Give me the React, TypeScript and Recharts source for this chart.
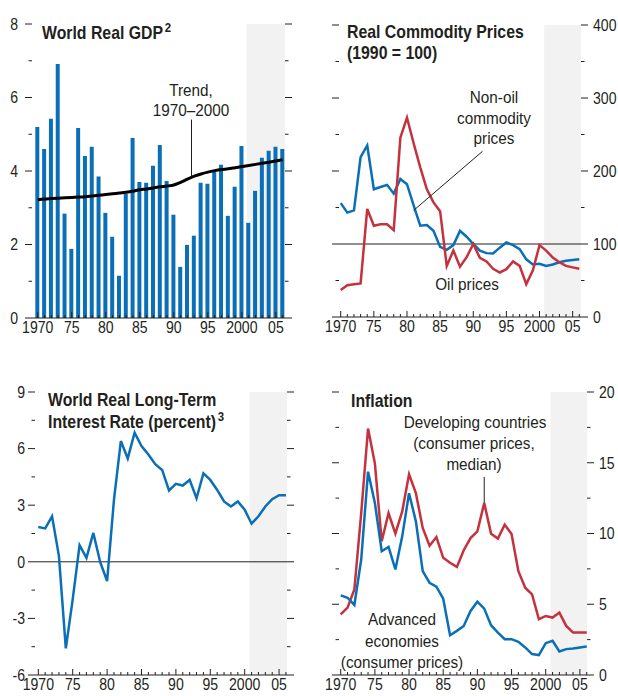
import React from 'react'
import {
  ComposedChart, Bar, Line, XAxis, YAxis,
  ReferenceArea, ReferenceLine,
} from 'recharts'

const BLUE = '#0a6fb7'
const RED = '#c3323d'
const INK = '#231f20'
const SHADE = '#f2f2f2'
const FONT = "'Liberation Sans', Arial, sans-serif"

const YEARS = [
  1970, 1971, 1972, 1973, 1974, 1975, 1976, 1977, 1978, 1979,
  1980, 1981, 1982, 1983, 1984, 1985, 1986, 1987, 1988, 1989,
  1990, 1991, 1992, 1993, 1994, 1995, 1996, 1997, 1998, 1999,
  2000, 2001, 2002, 2003, 2004, 2005, 2006,
]
const X_LABEL_YEARS = [1970, 1975, 1980, 1985, 1990, 1995, 2000, 2005]
const X_LABEL_TEXT = ['1970', '75', '80', '85', '90', '95', '2000', '05']

// world real GDP growth (bars) and its 1970-2000 trend
const GDP = [
  5.2, 4.6, 5.42, 6.91, 2.84, 1.88, 5.17, 4.41, 4.66, 3.85,
  2.86, 2.21, 1.15, 3.38, 4.9, 3.7, 3.68, 4.14, 4.71, 3.73,
  2.81, 1.39, 1.99, 2.24, 3.68, 3.65, 3.98, 4.17, 2.78, 3.57,
  4.68, 2.59, 3.46, 4.36, 4.55, 4.66, 4.6,
]
const GDP_TREND = [
  3.22, 3.24, 3.25, 3.26, 3.27, 3.28, 3.29, 3.3, 3.32, 3.34,
  3.36, 3.38, 3.4, 3.42, 3.45, 3.49, 3.51, 3.54, 3.57, 3.59,
  3.62, 3.69, 3.78, 3.86, 3.92, 3.97, 4.01, 4.04, 4.06, 4.09,
  4.12, 4.15, 4.18, 4.21, 4.24, 4.27, 4.31,
]

// real commodity prices, 1990 = 100
const NON_OIL = [
  156, 143, 146, 219, 235, 175, 178, 181, 169, 189,
  182, 153, 125, 126, 118, 96, 92, 98.5, 118, 110,
  100, 91, 87.5, 87, 95, 102, 98.5, 93, 79, 72,
  73, 70, 72, 75, 77, 78, 79,
]
const OIL = [
  37, 43.5, 45, 46, 148, 125, 127, 127, 119, 245.6,
  273, 238, 205, 175, 157, 145, 70, 91, 69, 82,
  100, 81, 76, 66, 61, 65.5, 76, 70, 45, 64,
  98.5, 91, 81.5, 75, 70, 68, 66,
]

// world real long-term interest rate, percent
const INTEREST = [
  1.84, 1.77, 2.41, 0.3, -4.59, -1.99, 0.88, 0.21, 1.53, -0.02,
  -1.02, 3.29, 6.4, 5.48, 6.84, 6.13, 5.69, 5.17, 4.87, 3.78,
  4.13, 4.04, 4.34, 3.37, 4.69, 4.34, 3.81, 3.2, 2.93, 3.2,
  2.76, 2.02, 2.41, 2.93, 3.32, 3.53, 3.53,
]

// inflation, consumer prices
const INFL_DEV = [
  4.29, 4.76, 6.05, 11.44, 17.42, 14.96, 9.45, 11.44, 9.99, 11.56,
  14.19, 12.85, 10.39, 9.14, 9.75, 8.28, 7.93, 7.64, 8.82, 9.68,
  10.15, 12.15, 9.99, 9.64, 10.62, 9.97, 7.34, 6.17, 5.7, 3.94,
  4.17, 4.06, 4.41, 3.47, 3.0, 3.0, 3.0,
]
const INFL_ADV = [
  5.63, 5.46, 4.95, 8.16, 14.37, 12.15, 8.75, 9.05, 7.46, 9.8,
  12.85, 10.86, 7.34, 6.52, 6.24, 5.39, 2.81, 3.12, 3.47, 4.53,
  5.18, 4.69, 3.52, 3.0, 2.53, 2.53, 2.34, 1.95, 1.48, 1.41,
  2.25, 2.42, 1.66, 1.83, 1.88, 1.95, 2.02,
]

const GDP_TICKS = [0, 1, 2, 3, 4, 5, 6, 7, 8]
const GDP_LABELS = [0, 2, 4, 6, 8]
const PRICE_TICKS = [0, 50, 100, 150, 200, 250, 300, 350, 400]
const PRICE_LABELS = [0, 100, 200, 300, 400]
const RATE_TICKS = [-6, -4.5, -3, -1.5, 0, 1.5, 3, 4.5, 6, 7.5, 9]
const RATE_LABELS = [-6, -3, 0, 3, 6, 9]
const INFL_TICKS = [0, 2.5, 5, 7.5, 10, 12.5, 15, 17.5, 20]
const INFL_LABELS = [0, 5, 10, 15, 20]

const SHADE_FROM = 2000.7

const rows = YEARS.map((year, i) => ({
  year,
  gdp: GDP[i],
  trend: GDP_TREND[i],
  nonOil: NON_OIL[i],
  oil: OIL[i],
  rate: INTEREST[i],
  dev: INFL_DEV[i],
  adv: INFL_ADV[i],
}))

// condensed text: Liberation Sans squeezed horizontally around its anchor
function CText({ x, y, size = 16, bold = false, anchor = 'start', sx = 0.88, dy, children }: any) {
  return (
    <text
      transform={`translate(${x},${y}) scale(${sx},1)`}
      dy={dy}
      textAnchor={anchor}
      style={{ fontFamily: FONT, fontSize: size, fontWeight: bold ? 700 : 400, fill: INK }}
    >
      {children}
    </text>
  )
}

const yTick = (side: 'left' | 'right', labels: number[], showLabels: boolean, gap: number) => (p: any) => {
  const v = p.payload.value
  const major = labels.includes(v)
  const dir = side === 'left' ? -1 : 1
  const len = major ? 7 : 3.5
  return (
    <g>
      <line x1={p.x} x2={p.x + dir * len} y1={p.y} y2={p.y} stroke={INK} strokeWidth={1} />
      {showLabels && major && (
        <CText x={p.x + dir * gap} y={p.y} dy="0.36em" anchor={side === 'left' ? 'end' : 'start'}>
          {String(v)}
        </CText>
      )}
    </g>
  )
}

const xTick = (p: any) => {
  const v = p.payload.value
  const i = X_LABEL_YEARS.indexOf(v)
  const major = i >= 0
  return (
    <g>
      <line x1={p.x} x2={p.x} y1={p.y} y2={p.y - (major ? 6 : 3)} stroke={INK} strokeWidth={1} />
      {major && <CText x={p.x} y={p.y + 15} anchor="middle">{X_LABEL_TEXT[i]}</CText>}
    </g>
  )
}

interface PanelProps {
  left: number
  top: number
  margin: { top: number; right: number; bottom: number; left: number }
  xDomain: [number, number]
  yDomain: [number, number]
  yTicks: number[]
  yLabels: number[]
  labelSide: 'left' | 'right'
  labelGap: number
  children: React.ReactNode
}

// axes are 1px wide/high so they still render; margins below already allow for that
function Panel({ left, top, margin, xDomain, yDomain, yTicks, yLabels, labelSide, labelGap, children }: PanelProps) {
  return (
    <div style={{ position: 'absolute', left, top, width: 309, height: 348 }}>
      <ComposedChart width={309} height={348} data={rows} margin={margin}>
        <ReferenceArea yAxisId="l" x1={SHADE_FROM} x2={xDomain[1]} y1={yDomain[0]} y2={yDomain[1]} fill={SHADE} fillOpacity={1} stroke="none" />
        <XAxis
          dataKey="year" type="number" domain={xDomain} ticks={YEARS} interval={0}
          height={1} tickSize={0} tickMargin={0} tickLine={false}
          axisLine={{ stroke: INK, strokeWidth: 1 }} tick={xTick} allowDataOverflow
        />
        <YAxis
          yAxisId="l" orientation="left" type="number" domain={yDomain} ticks={yTicks} interval={0}
          width={1} tickSize={0} tickMargin={0} tickLine={false} axisLine={false}
          tick={yTick('left', yLabels, labelSide === 'left', labelGap)} allowDataOverflow
        />
        <YAxis
          yAxisId="r" orientation="right" type="number" domain={yDomain} ticks={yTicks} interval={0}
          width={1} tickSize={0} tickMargin={0} tickLine={false} axisLine={false}
          tick={yTick('right', yLabels, labelSide === 'right', labelGap)} allowDataOverflow
        />
        {children}
      </ComposedChart>
    </div>
  )
}

export default function App() {
  return (
    <div style={{ position: 'absolute', left: 0, top: 0, width: 618, height: 696, background: '#fff' }}>
      {/* World real GDP */}
      <Panel left={0} top={0} margin={{ top: 24, right: 23, bottom: 29, left: 31 }}
        xDomain={[1969.16, 2006.34]} yDomain={[0, 8]} yTicks={GDP_TICKS} yLabels={GDP_LABELS}
        labelSide="left" labelGap={14}>
        {[
          <Bar key="b" yAxisId="l" dataKey="gdp" fill={BLUE} barSize={4} isAnimationActive={false} />,
          <Line key="t" yAxisId="l" dataKey="trend" type="monotone" stroke="#000" strokeWidth={3} dot={false} isAnimationActive={false} />,
          <ReferenceLine key="s" yAxisId="l" segment={[{ x: 1992.6, y: 5.4 }, { x: 1992.6, y: 3.86 }]} stroke={INK} strokeWidth={1} />,
        ]}
      </Panel>

      {/* Real commodity prices */}
      <Panel left={309} top={0} margin={{ top: 25, right: 36, bottom: 30, left: 29 }}
        xDomain={[1969.74, 2006.26]} yDomain={[0, 400]} yTicks={PRICE_TICKS} yLabels={PRICE_LABELS}
        labelSide="right" labelGap={12}>
        {[
          <ReferenceLine key="h" yAxisId="l" y={100} stroke={INK} strokeWidth={1} />,
          <Line key="n" yAxisId="l" dataKey="nonOil" stroke={BLUE} strokeWidth={2.5} dot={false} isAnimationActive={false} />,
          <Line key="o" yAxisId="l" dataKey="oil" stroke={RED} strokeWidth={2.5} dot={false} isAnimationActive={false} />,
          <ReferenceLine key="s" yAxisId="l" segment={[{ x: 1991.4, y: 227 }, { x: 1981.0, y: 146 }]} stroke={INK} strokeWidth={1} />,
        ]}
      </Panel>

      {/* World real long-term interest rate */}
      <Panel left={0} top={348} margin={{ top: 44, right: 21, bottom: 20, left: 34 }}
        xDomain={[1969.52, 2006.15]} yDomain={[-6, 9]} yTicks={RATE_TICKS} yLabels={RATE_LABELS}
        labelSide="left" labelGap={10}>
        {[
          <ReferenceLine key="h" yAxisId="l" y={0} stroke={INK} strokeWidth={1} />,
          <Line key="r" yAxisId="l" dataKey="rate" stroke={BLUE} strokeWidth={2.5} dot={false} isAnimationActive={false} />,
        ]}
      </Panel>

      {/* Inflation */}
      <Panel left={309} top={348} margin={{ top: 44, right: 30, bottom: 20, left: 29 }}
        xDomain={[1969.75, 2006.04]} yDomain={[0, 20]} yTicks={INFL_TICKS} yLabels={INFL_LABELS}
        labelSide="right" labelGap={12}>
        {[
          <Line key="d" yAxisId="l" dataKey="dev" stroke={RED} strokeWidth={2.5} dot={false} isAnimationActive={false} />,
          <Line key="a" yAxisId="l" dataKey="adv" stroke={BLUE} strokeWidth={2.5} dot={false} isAnimationActive={false} />,
          <ReferenceLine key="s" yAxisId="l" segment={[{ x: 1991.0, y: 14.0 }, { x: 1991.0, y: 12.15 }]} stroke={INK} strokeWidth={1} />,
        ]}
      </Panel>

      {/* titles and labels */}
      <svg width={618} height={696} style={{ position: 'absolute', left: 0, top: 0, pointerEvents: 'none' }}>
        <CText x={42} y={39} size={18} bold>World Real GDP<tspan dx={2} dy={-7} fontSize={13}>2</tspan></CText>
        <CText x={347} y={38} size={18} bold>Real Commodity Prices</CText>
        <CText x={347} y={59} size={18} bold>(1990 = 100)</CText>
        <CText x={48} y={406} size={18} bold>World Real Long-Term</CText>
        <CText x={48} y={428} size={18} bold>Interest Rate (percent)<tspan dx={2} dy={-7} fontSize={13}>3</tspan></CText>
        <CText x={351} y={407} size={18} bold>Inflation</CText>

        <CText x={191} y={96} size={17} sx={0.9} anchor="middle">Trend,</CText>
        <CText x={191} y={116} size={17} sx={0.9} anchor="middle">1970–2000</CText>
        <CText x={494} y={103} size={17} sx={0.9} anchor="middle">Non-oil</CText>
        <CText x={494} y={124} size={17} sx={0.9} anchor="middle">commodity</CText>
        <CText x={494} y={144} size={17} sx={0.9} anchor="middle">prices</CText>
        <CText x={467} y={290} size={17} sx={0.9} anchor="middle">Oil prices</CText>
        <CText x={475} y={428} size={17} sx={0.9} anchor="middle">Developing countries</CText>
        <CText x={474} y={449} size={17} sx={0.9} anchor="middle">(consumer prices,</CText>
        <CText x={474} y={470} size={17} sx={0.9} anchor="middle">median)</CText>
        <CText x={402} y={625} size={17} sx={0.9} anchor="middle">Advanced</CText>
        <CText x={402} y={647} size={17} sx={0.9} anchor="middle">economies</CText>
        <CText x={402} y={668} size={17} sx={0.9} anchor="middle">(consumer prices)</CText>
      </svg>
    </div>
  )
}
